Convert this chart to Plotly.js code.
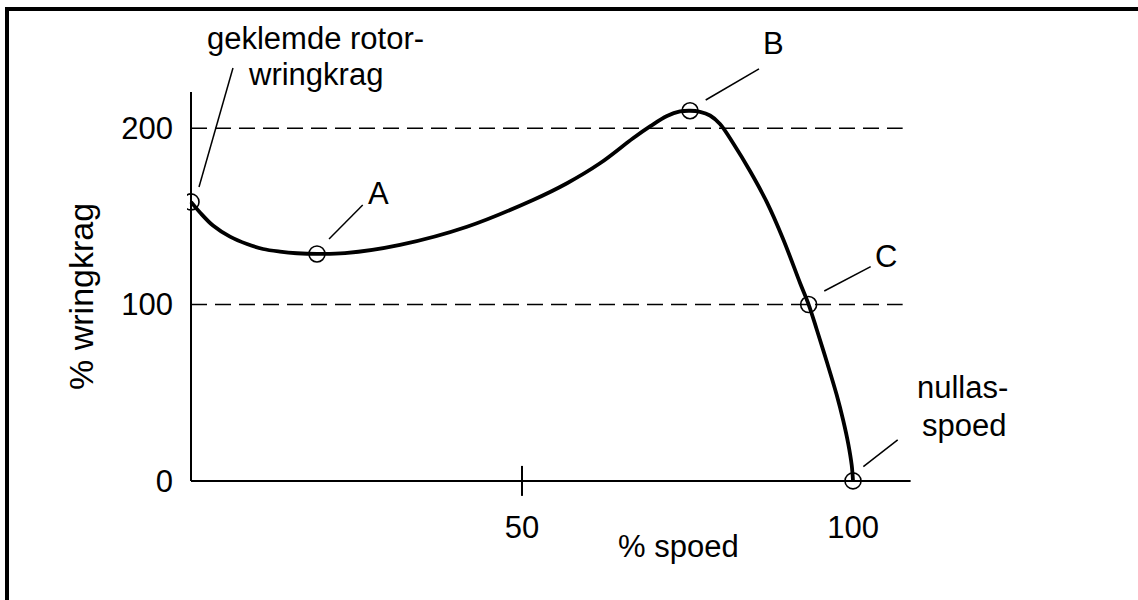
<!DOCTYPE html>
<html>
<head>
<meta charset="utf-8">
<script src="https://cdn.plot.ly/plotly-3.0.1.min.js"></script>
<style>
html,body{margin:0;padding:0;background:#fff;overflow:hidden;width:1138px;height:600px;}
#wrap{position:relative;width:1138px;height:600px;overflow:hidden;}
#frame{position:absolute;left:5px;top:7px;width:1200px;height:700px;border-left:4px solid #000;border-top:4px solid #000;box-sizing:border-box;}
#chart{position:absolute;left:0;top:0;width:1138px;height:600px;}
</style>
</head>
<body>
<div id="wrap"><div id="frame"></div><div id="chart"></div></div>
<script>
// Torque-speed curve (% speed vs % torque)
const speed = [0, 1.36, 3.32, 5.89, 8.46, 10.88, 13.44, 16.01, 19.03, 23.26, 31.57, 41.69, 51.66, 56.8, 61.78, 66.77, 69.34, 71.9, 73.87, 75.38, 76.89, 78.4, 79.91, 81.92, 84.44, 86.96, 89.47, 92.0, 93.3, 94.52, 96.03, 97.54, 98.54, 99.29, 99.8, 100];
const torque = [158.2, 152.2, 144.8, 138.5, 134.3, 131.5, 130.0, 129.1, 128.7, 129.1, 133.8, 144.1, 159.3, 168.8, 180.1, 194.3, 201.0, 206.9, 209.5, 209.9, 209.3, 207.2, 202.4, 191.3, 175.7, 158.2, 136.9, 112.2, 100, 85.85, 67.7, 48.7, 34.0, 20.9, 9.0, 0];

// Marked points: stalled rotor, A, B, C, no-load speed
const keySpeed = [0, 19.03, 75.38, 93.3, 100];
const keyTorque = [158.2, 128.7, 209.9, 100, 0];

// Dashed reference levels
const refLevels = [100, 200];
const refEnd = 107.5;

// Axis extents
const xAxisEnd = 108.7;
const yAxisEnd = 220.5;

// Tick labels
const xTicks = [50, 100];
const xTickText = ['50', '100'];
const yTicks = [0, 100, 200];
const yTickText = ['0', '100', '200'];

const FONT = 'Liberation Sans, Arial, Helvetica, sans-serif';
const FS = 31;

const traces = [];
refLevels.forEach(v => traces.push({
  x: [0, refEnd], y: [v, v], mode: 'lines', type: 'scatter',
  line: {color: '#000', width: 1.5, dash: '16px,8px'}, hoverinfo: 'skip', showlegend: false
}));
// axis lines
traces.push({x: [0, xAxisEnd], y: [0, 0], mode: 'lines', line: {color: '#000', width: 2}, hoverinfo: 'skip', showlegend: false});
traces.push({x: [0, 0], y: [0, yAxisEnd], mode: 'lines', line: {color: '#000', width: 2}, hoverinfo: 'skip', showlegend: false});
// tick mark at 50
traces.push({x: [50, 50], y: [-8.5, 8.5], mode: 'lines', line: {color: '#000', width: 2}, hoverinfo: 'skip', showlegend: false});
// curve
traces.push({x: speed, y: torque, mode: 'lines', type: 'scatter',
  line: {color: '#000', width: 3.8, shape: 'spline', smoothing: 1.0}, showlegend: false});
// markers
traces.push({x: keySpeed, y: keyTorque, mode: 'markers', type: 'scatter',
  marker: {symbol: 'circle-open', size: 16, color: '#000', line: {width: 1.6, color: '#000'}}, showlegend: false});

function lbl(text, x, y) {
  return {text: text, x: x, y: y, xref: 'x', yref: 'y', showarrow: false,
    xanchor: 'center', yanchor: 'middle', font: {family: FONT, size: FS, color: '#000'}};
}
const annotations = [
  lbl('geklemde rotor-', 18.81, 250.6),
  lbl('wringkrag', 18.73, 230.2),
  lbl('A', 28.25, 162.7),
  lbl('B', 87.92, 247.9),
  lbl('C', 105.0, 127.5),
  lbl('nullas-', 116.6, 52.7),
  lbl('spoed', 116.7, 31.7),
  // axis titles
  {text: '% spoed', x: 73.64, xref: 'x', y: -0.0961, yref: 'paper', showarrow: false,
   xanchor: 'center', yanchor: 'middle', font: {family: FONT, size: FS, color: '#000'}},
  {text: '% wringkrag', x: -0.1124, xref: 'paper', y: 104.3, yref: 'y', showarrow: false,
   textangle: -90, xanchor: 'center', yanchor: 'middle', font: {family: FONT, size: 34, color: '#000'}}
];

function seg(x0, y0, x1, y1) {
  return {type: 'line', xref: 'x', yref: 'y', x0: x0, y0: y0, x1: x1, y1: y1, line: {color: '#000', width: 1.5}};
}
const shapes = [
  seg(6.34, 234.1, 1.21, 166.7),
  seg(20.85, 137.2, 25.94, 156.4),
  seg(77.75, 216.0, 85.8, 233.6),
  seg(95.66, 107.7, 102.67, 121.5),
  seg(101.56, 8.05, 106.75, 23.25)
];

const layout = {
  width: 1138, height: 600,
  margin: {l: 187, r: 8, t: 15, b: 100},
  paper_bgcolor: 'rgba(0,0,0,0)', plot_bgcolor: 'rgba(0,0,0,0)',
  font: {family: FONT, size: FS, color: '#000'},
  showlegend: false,
  xaxis: {range: [-0.6042, 141.84], showgrid: false, zeroline: false, showline: false,
    tickvals: xTicks, ticktext: xTickText, ticks: '', ticklabelstandoff: 6,
    tickfont: {family: FONT, size: FS, color: '#000'}},
  yaxis: {range: [-10.831, 264.19], showgrid: false, zeroline: false, showline: false,
    tickvals: yTicks, ticktext: yTickText, ticks: '', ticklabelstandoff: 13,
    tickfont: {family: FONT, size: FS, color: '#000'}},
  annotations: annotations,
  shapes: shapes
};

Plotly.newPlot('chart', traces, layout, {staticPlot: true, displayModeBar: false});
</script>
</body>
</html>
